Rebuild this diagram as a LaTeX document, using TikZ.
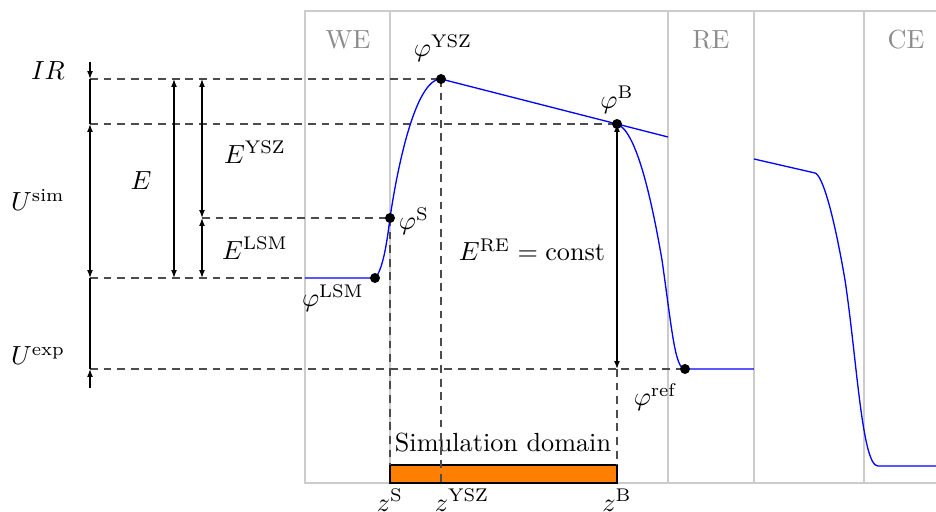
\documentclass[tikz,border=0pt]{standalone}
\usepackage{amsmath,amssymb}
\usepackage{xcolor}
\usetikzlibrary{arrows.meta}

\begin{document}
\begin{tikzpicture}[
  x=0.3817pt, y=-0.3817pt,
  >={Latex[length=3pt,width=2.2pt]},
  frame/.style={draw=black!20, line width=1.1pt},
  guide/.style={draw=black!70, dash pattern=on 3pt off 2.2pt, line width=0.45pt},
  dim/.style={draw, line width=0.45pt},
  pot/.style={draw=blue, line width=0.5pt},
  dot/.style={circle, fill, inner sep=0pt, minimum size=3.8pt},
  lbl/.style={text=black!45}
]
\clip (0,0) rectangle (936,512);

%% electrode frame
\draw[frame] (940,11) -- (305,11) -- (305,483) -- (940,483);
\foreach \xx in {390,668,754,864}
  \draw[frame] (\xx,11) -- (\xx,483);
\node[lbl] (we) at (348,40) {WE};
\node[lbl] (re) at (711,40) {RE};
\node[lbl] (ce) at (906,40) {CE};

%% potential points
\coordinate (pLSM) at (375,278);
\coordinate (pS)   at (390,218);
\coordinate (pYSZ) at (441,79);
\coordinate (pB)   at (617,124);
\coordinate (pref) at (685,369);

%% level marks
\coordinate (tIR) at (90,62);
\coordinate (lY)  at (90,79);
\coordinate (lB)  at (90,124);
\coordinate (lL)  at (90,278);
\coordinate (lR)  at (90,369);
\coordinate (tUe) at (90,388);
\coordinate (eT)  at (174,79);
\coordinate (eB)  at (174,278);
\coordinate (ysT) at (202,79);
\coordinate (ysM) at (202,218);
\coordinate (ysB) at (202,278);
\coordinate (wL)  at (305,278);
\coordinate (rB)  at (617,369);
\coordinate (zS)  at (390,465);
\coordinate (zY)  at (441,483);
\coordinate (zB)  at (617,465);

%% simulation domain
\draw[fill=orange, line width=0.5pt] (zS) rectangle (617,483);
\node (sim) at (503,443) {Simulation domain};

%% dashed guides
\draw[guide] (lY) -- (pYSZ);
\draw[guide] (lB) -- (pB);
\draw[guide] (ysM) -- (pS);
\draw[guide] (lL) -- (wL);
\draw[guide] (lR) -- (pref);
\draw[guide] (pS) -- (zS);
\draw[guide] (pYSZ) -- (zY);
\draw[guide] (rB) -- (zB);

%% dimension arrows
\draw[dim, ->] (tIR) -- (lY);
\draw[dim] (lY) -- (lB);
\draw[dim, <->] (lB) -- (lL);
\draw[dim] (lL) -- (lR);
\draw[dim, ->] (tUe) -- (lR);
\draw[dim, <->] (eT) -- (eB);
\draw[dim, <->] (ysT) -- (ysM);
\draw[dim, <->] (ysM) -- (ysB);
\draw[dim, <->] (pB) -- (rB);

%% potential curve
\draw[pot] (wL) -- (pLSM) .. controls (383,270) and (387,242) .. (pS)
  .. controls (397,170) and (415,79) .. (pYSZ) -- (668,137);
\draw[pot] (pB) .. controls (635,130) and (650,190) .. (662,260)
  .. controls (672,330) and (675,369) .. (pref) -- (754,369);
\draw[pot] (754,159) -- (815,173) .. controls (822,175) and (833,210) .. (845,280)
  .. controls (857,360) and (862,466) .. (878,466) -- (940,466);

\node[dot] (dLSM) at (pLSM) {};
\node[dot] (dS)   at (pS) {};
\node[dot] (dYSZ) at (pYSZ) {};
\node[dot] (dB)   at (pB) {};
\node[dot] (dref) at (pref) {};

%% labels
\node (ir)   at (48,71)   {$IR$};
\node (usim) at (38,200)  {$U^{\text{sim}}$};
\node (e)    at (141,181) {$E$};
\node (eysz) at (255,152) {$E^{\text{YSZ}}$};
\node (elsm) at (255,248) {$E^{\text{LSM}}$};
\node (uexp) at (38,356)  {$U^{\text{exp}}$};
\node (phiysz) at (443,48)  {$\varphi^{\text{YSZ}}$};
\node (phib)   at (617,100) {$\varphi^{\text{B}}$};
\node (phis)   at (414,221) {$\varphi^{\text{S}}$};
\node (philsm) at (333,298) {$\varphi^{\text{LSM}}$};
\node (phiref) at (655,397) {$\varphi^{\text{ref}}$};
\node (ere)    at (532,250) {$E^{\text{RE}} = \text{const}$};
\node (lzs) at (390,500) {$z^{\text{S}}$};
\node (lzy) at (462,500) {$z^{\text{YSZ}}$};
\node (lzb) at (617,500) {$z^{\text{B}}$};
\end{tikzpicture}
\end{document}
